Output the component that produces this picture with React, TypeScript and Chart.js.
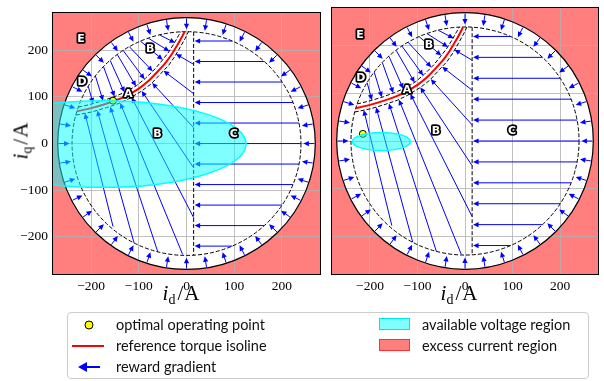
import React, { useEffect, useRef } from "react";
import { Chart, registerables } from "chart.js";
Chart.register(...registerables);

// ---------- axes ----------
const AXIS_LIMIT = 282;
const TICK_VALUES = [-200, -100, 0, 100, 200];

// ---------- regions ----------
const R_OUTER = 270; // current limit circle
const R_DASHED = 240; // inner dashed circle
const D_BOUNDARY = 15; // vertical dashed boundary (i_d)

// reference torque isoline and band boundaries
const ISO_D = [-230, -200, -170, -145, -125, -100, -80, -60, -45, -32, -20, -10, -4];
const ISO_Q = [69, 76, 85, 94, 103, 118, 134, 155, 172, 190, 210, 228, 240];
const BAND_UP_D = [-227, -202, -172, -148, -129, -105, -86, -66, -52, -39, -27, -17, -12];
const BAND_UP_Q = [78, 84, 93, 102, 110, 124, 140, 160, 177, 194, 213, 231, 240];
const BAND_LO_D = [-232, -198, -168, -142, -121, -95, -74, -54, -38, -25, -13, -3, 4];
const BAND_LO_Q = [61, 68, 77, 86, 96, 112, 128, 150, 167, 186, 207, 225, 240];

// ---------- reward gradient arrows ----------
const RING_ANGLES = [0, 9, 18, 27, 36, 45, 54, 63, 72, 81, 90, 99, 108, 117, 126, 135, 144, 153, 162, 171,
  180, 189, 198, 207, 216, 225, 234, 243, 252, 261, 270, 279, 288, 297, 306, 315, 324, 333, 342, 351];
const RING_TAIL_R = 268;
const RING_HEAD_R = 245;

const C_Q = [220, 176, 132, 88, 44, 0, -44, -88, -132, -176, -220];
const C_START_D = [96, 163, 200, 223, 236, 240, 236, 223, 200, 163, 96];

const BL_TAIL_D = [-154, -110, -60, -8, 15, 15, 15, 15, 15];
const BL_TAIL_Q = [-178, -213, -233, -238, -159, -52, 34, 107, 170];
const BL_HEAD_D = [-213, -187, -160, -139, -115, -94, -72, -48, -22];
const BL_HEAD_Q = [65, 71, 79, 87, 99, 113, 130, 156, 192];

const BU_TAIL_D = [-206, -191, -174, -160, -145, -133, -120, -97, -80, -56];
const BU_TAIL_Q = [123, 145, 165, 178, 191, 200, 208, 220, 226, 233];
const BU_HEAD_D = [-196, -175, -151, -130, -106, -88, -71, -50, -36, -24];
const BU_HEAD_Q = [86, 92, 101, 110, 123, 138, 155, 180, 198, 216];

// ---------- region labels ----------
const LABEL_TEXT = ["E", "B", "D", "A", "B", "C"];
const LABEL_D = [-221, -76, -219, -122, -61, 99];
const LABEL_Q = [223, 202, 132, 106, 21, 21];

// ---------- per-plot data ----------
const ELLIPSE_CENTER_D = [-175, -176];
const ELLIPSE_CENTER_Q = [-1, -1];
const ELLIPSE_SEMI_D = [300, 61];
const ELLIPSE_SEMI_Q = [93, 19];
const OPT_D = [-154, -215];
const OPT_Q = [92, 15];

function drawArrow(ctx: CanvasRenderingContext2D, x0: number, y0: number, x1: number, y1: number) {
  const dx = x1 - x0, dy = y1 - y0;
  const len = Math.hypot(dx, dy);
  if (len < 0.1) return;
  const ux = dx / len, uy = dy / len;
  const hl = 5.5, hw = 2.6;
  const bx = x1 - ux * hl, by = y1 - uy * hl;
  ctx.beginPath();
  ctx.moveTo(x0, y0);
  ctx.lineTo(x1 - ux * hl * 0.7, y1 - uy * hl * 0.7);
  ctx.stroke();
  ctx.beginPath();
  ctx.moveTo(x1, y1);
  ctx.lineTo(bx - uy * hw, by + ux * hw);
  ctx.lineTo(bx + uy * hw, by - ux * hw);
  ctx.closePath();
  ctx.fill();
}

function makePlugin(idx: number) {
  return {
    id: "fieldPlugin" + idx,
    beforeDraw(chart: any) {
      const { ctx, chartArea: a } = chart;
      const xs = chart.scales.x, ys = chart.scales.y;
      ctx.save();
      ctx.fillStyle = "#ffffff";
      ctx.fillRect(0, 0, chart.width, chart.height);
      ctx.beginPath();
      ctx.rect(a.left, a.top, a.right - a.left, a.bottom - a.top);
      ctx.clip();
      ctx.fillStyle = "rgba(255,0,0,0.5)";
      ctx.fillRect(a.left, a.top, a.right - a.left, a.bottom - a.top);
      const cx = xs.getPixelForValue(0), cy = ys.getPixelForValue(0);
      const rx = xs.getPixelForValue(R_OUTER) - cx, ry = cy - ys.getPixelForValue(R_OUTER);
      ctx.beginPath();
      ctx.ellipse(cx, cy, rx, ry, 0, 0, Math.PI * 2);
      ctx.fillStyle = "#ffffff";
      ctx.fill();
      ctx.restore();
    },
    beforeDatasetsDraw(chart: any) {
      const { ctx, chartArea: a } = chart;
      const xs = chart.scales.x, ys = chart.scales.y;
      const px = (v: number) => xs.getPixelForValue(v);
      const py = (v: number) => ys.getPixelForValue(v);
      ctx.save();
      ctx.beginPath();
      ctx.rect(a.left, a.top, a.right - a.left, a.bottom - a.top);
      ctx.clip();
      const cx = px(0), cy = py(0);
      ctx.strokeStyle = "#000";
      ctx.lineWidth = 1.2;
      ctx.beginPath();
      ctx.ellipse(cx, cy, px(R_OUTER) - cx, cy - py(R_OUTER), 0, 0, Math.PI * 2);
      ctx.stroke();
      ctx.lineWidth = 1;
      ctx.setLineDash([4, 2]);
      ctx.beginPath();
      ctx.ellipse(cx, cy, px(R_DASHED) - cx, cy - py(R_DASHED), 0, 0, Math.PI * 2);
      ctx.stroke();
      const topQ = Math.sqrt(R_DASHED * R_DASHED - D_BOUNDARY * D_BOUNDARY);
      ctx.beginPath();
      ctx.moveTo(px(D_BOUNDARY), py(topQ));
      ctx.lineTo(px(D_BOUNDARY), py(-topQ));
      ctx.stroke();
      const band = (D: number[], Q: number[]) => {
        ctx.beginPath();
        D.forEach((d, i) => (i === 0 ? ctx.moveTo(px(d), py(Q[i])) : ctx.lineTo(px(d), py(Q[i]))));
        ctx.stroke();
      };
      band(BAND_UP_D, BAND_UP_Q);
      band(BAND_LO_D, BAND_LO_Q);
      ctx.setLineDash([]);
      ctx.strokeStyle = "#0000ff";
      ctx.fillStyle = "#0000ff";
      ctx.lineWidth = 1;
      RING_ANGLES.forEach((deg) => {
        const t = (deg * Math.PI) / 180;
        drawArrow(ctx, px(RING_TAIL_R * Math.cos(t)), py(RING_TAIL_R * Math.sin(t)),
          px(RING_HEAD_R * Math.cos(t)), py(RING_HEAD_R * Math.sin(t)));
      });
      C_Q.forEach((q, i) => drawArrow(ctx, px(C_START_D[i]), py(q), px(D_BOUNDARY + 2), py(q)));
      BL_TAIL_D.forEach((d, i) => drawArrow(ctx, px(d), py(BL_TAIL_Q[i]), px(BL_HEAD_D[i]), py(BL_HEAD_Q[i])));
      BU_TAIL_D.forEach((d, i) => drawArrow(ctx, px(d), py(BU_TAIL_Q[i]), px(BU_HEAD_D[i]), py(BU_HEAD_Q[i])));
      ctx.restore();
    },
    afterDatasetsDraw(chart: any) {
      const { ctx, chartArea: a } = chart;
      const xs = chart.scales.x, ys = chart.scales.y;
      const px = (v: number) => xs.getPixelForValue(v);
      const py = (v: number) => ys.getPixelForValue(v);
      ctx.save();
      ctx.beginPath();
      ctx.rect(a.left, a.top, a.right - a.left, a.bottom - a.top);
      ctx.clip();
      const ex = px(ELLIPSE_CENTER_D[idx]), ey = py(ELLIPSE_CENTER_Q[idx]);
      const erx = px(ELLIPSE_CENTER_D[idx] + ELLIPSE_SEMI_D[idx]) - ex;
      const ery = ey - py(ELLIPSE_CENTER_Q[idx] + ELLIPSE_SEMI_Q[idx]);
      ctx.beginPath();
      ctx.ellipse(ex, ey, erx, ery, 0, 0, Math.PI * 2);
      ctx.fillStyle = "rgba(0,255,255,0.5)";
      ctx.fill();
      ctx.strokeStyle = "#00ffff";
      ctx.lineWidth = 1.5;
      ctx.stroke();
      ctx.font = 'bold 11px "DejaVu Sans"';
      ctx.textAlign = "center";
      ctx.textBaseline = "middle";
      ctx.lineJoin = "round";
      LABEL_TEXT.forEach((t, i) => {
        const x = px(LABEL_D[i]), y = py(LABEL_Q[i]);
        ctx.strokeStyle = "#000";
        ctx.lineWidth = 3.5;
        ctx.strokeText(t, x, y);
        ctx.fillStyle = "#fff";
        ctx.fillText(t, x, y);
      });
      ctx.restore();
      ctx.save();
      ctx.strokeStyle = "#000";
      ctx.lineWidth = 1;
      ctx.strokeRect(Math.round(a.left) + 0.5, Math.round(a.top) + 0.5,
        Math.round(a.right - a.left) - 1, Math.round(a.bottom - a.top) - 1);
      ctx.restore();
    },
  };
}

const tickFont = { family: '"Liberation Serif", "DejaVu Serif", serif', size: 13.5 };

function Plot({ idx, width, height, padding, yLabels }: any) {
  const ref = useRef<HTMLCanvasElement | null>(null);
  useEffect(() => {
    if (!ref.current) return;
    const chart = new Chart(ref.current, {
      type: "scatter",
      data: {
        datasets: [
          {
            type: "scatter",
            data: [{ x: OPT_D[idx], y: OPT_Q[idx] }],
            backgroundColor: "#ffff00",
            borderColor: "#000",
            borderWidth: 1,
            pointRadius: 3.5,
            order: 1,
          } as any,
          {
            type: "line",
            data: ISO_D.map((d, i) => ({ x: d, y: ISO_Q[i] })),
            borderColor: "#ff0000",
            borderWidth: 2,
            pointRadius: 0,
            tension: 0.3,
            fill: false,
            order: 2,
          } as any,
        ],
      },
      options: {
        animation: false,
        responsive: false,
        maintainAspectRatio: false,
        devicePixelRatio: 1,
        layout: { padding },
        plugins: { legend: { display: false }, tooltip: { enabled: false } },
        scales: {
          x: {
            type: "linear",
            min: -AXIS_LIMIT,
            max: AXIS_LIMIT,
            afterBuildTicks: (s: any) => { s.ticks = TICK_VALUES.map((v) => ({ value: v })); },
            afterFit: (s: any) => { s.height = 25; },
            grid: { color: "#b0b0b0", lineWidth: 0.8, drawTicks: false },
            border: { display: false },
            ticks: {
              padding: 3,
              color: "#000",
              font: tickFont,
              maxRotation: 0,
              callback: (v: any) => String(v).replace("-", "\u2212"),
            },
          },
          y: {
            type: "linear",
            min: -AXIS_LIMIT,
            max: AXIS_LIMIT,
            afterBuildTicks: (s: any) => { s.ticks = TICK_VALUES.map((v) => ({ value: v })); },
            afterFit: (s: any) => { s.width = yLabels ? 52 : 0; },
            grid: { color: "#b0b0b0", lineWidth: 0.8, drawTicks: false },
            border: { display: false },
            ticks: {
              display: yLabels,
              padding: 4,
              color: "#000",
              font: tickFont,
              callback: (v: any) => String(v).replace("-", "\u2212"),
            },
          },
        },
      },
      plugins: [makePlugin(idx)],
    } as any);
    return () => chart.destroy();
  }, []);
  return <canvas ref={ref} width={width} height={height} style={{ width, height, display: "block" }} />;
}

const serif = '"Liberation Serif", "DejaVu Serif", serif';
const sans = 'Lato, "DejaVu Sans", sans-serif';

function AxisTitle({ sub }: { sub: string }) {
  return (
    <span style={{ fontFamily: serif, fontSize: 21, whiteSpace: "nowrap", color: "#000", lineHeight: "22px" }}>
      <i>i</i>
      <span style={{ fontSize: 14, position: "relative", top: 4 }}>{sub}</span>
      <span style={{ marginLeft: 2 }}>/</span>
      <span style={{ marginLeft: 1 }}>A</span>
    </span>
  );
}

export default function App() {
  const legendText = { position: "absolute" as const, fontFamily: sans, fontSize: 14.5, lineHeight: "18px", height: 18, whiteSpace: "nowrap" as const, color: "#111" };
  return (
    <div style={{ position: "fixed", left: 0, top: 0, width: 604, height: 381, background: "#fff", overflow: "hidden" }}>
      <div style={{ position: "absolute", left: 0, top: 0 }}>
        <Plot idx={0} width={326} height={300} padding={{ top: 7, right: 4, left: 0, bottom: 0 }} yLabels={true} />
      </div>
      <div style={{ position: "absolute", left: 326, top: 0 }}>
        <Plot idx={1} width={278} height={300} padding={{ top: 7, right: 5, left: 5, bottom: 0 }} yLabels={false} />
      </div>
      <div style={{ position: "absolute", left: 181, top: 282, transform: "translateX(-50%)" }}>
        <AxisTitle sub="d" />
      </div>
      <div style={{ position: "absolute", left: 459, top: 282, transform: "translateX(-50%)" }}>
        <AxisTitle sub="d" />
      </div>
      <div style={{ position: "absolute", left: 22, top: 141, transform: "translate(-50%,-50%) rotate(-90deg)" }}>
        <AxisTitle sub="q" />
      </div>
      <div style={{ position: "absolute", left: 67, top: 312, width: 522, height: 67, border: "1px solid #cccccc", borderRadius: 4, background: "#fff", boxSizing: "border-box" }}>
        <svg width={40} height={67} style={{ position: "absolute", left: 0, top: 0 }}>
          <circle cx={21} cy={12} r={4} fill="#ffff00" stroke="#000" strokeWidth={1} />
          <line x1={4} y1={33} x2={36} y2={33} stroke="#ff0000" strokeWidth={2} />
          <line x1={32} y1={54} x2={17} y2={54} stroke="#0000ff" strokeWidth={2} />
          <polygon points="10,54 19,49 19,59" fill="#0000ff" />
        </svg>
        <div style={{ ...legendText, left: 48, top: 3 }}>optimal operating point</div>
        <div style={{ ...legendText, left: 48, top: 24 }}>reference torque isoline</div>
        <div style={{ ...legendText, left: 48, top: 45 }}>reward gradient</div>
        <div style={{ position: "absolute", left: 311, top: 5, width: 31, height: 12, background: "rgba(0,255,255,0.5)", border: "1px solid #00e5e5", boxSizing: "border-box" }} />
        <div style={{ position: "absolute", left: 311, top: 26, width: 31, height: 12, background: "rgba(255,0,0,0.5)", border: "1px solid #ff3030", boxSizing: "border-box" }} />
        <div style={{ ...legendText, left: 354, top: 3 }}>available voltage region</div>
        <div style={{ ...legendText, left: 354, top: 24 }}>excess current region</div>
      </div>
    </div>
  );
}
